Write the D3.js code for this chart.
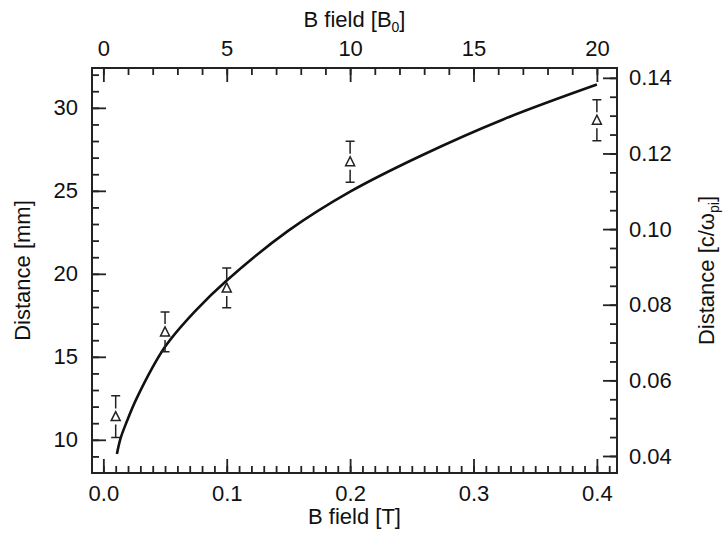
<!DOCTYPE html>
<html>
<head>
<meta charset="utf-8">
<script src="https://cdn.jsdelivr.net/npm/d3@7"></script>
<style>
  body { margin: 0; background: #fff; }
  svg { font-family: "Liberation Sans", Arial, sans-serif; }
  .axis path { stroke: none; }
  .axis line { stroke: #222; stroke-width: 1.8; }
  .axis text { font-size: 22px; fill: #111; }
  .title { font-size: 22px; fill: #111; }
</style>
</head>
<body>
<div id="chart"></div>
<script>
// measured points (B field in tesla, distance in mm)
const fieldT = [0.01, 0.05, 0.1, 0.2, 0.4];
const distMm = [11.4, 16.5, 19.15, 26.75, 29.25];
const errMm = [1.26, 1.2, 1.2, 1.23, 1.23];

// fitted curve
const fitT = [0.011, 0.014, 0.019, 0.027, 0.05, 0.075, 0.1, 0.15, 0.2, 0.257, 0.324, 0.4];
const fitMm = [9.15, 10.1, 11.1, 12.5, 15.6, 17.8, 19.6, 22.6, 24.95, 27.1, 29.3, 31.4];

const bottomMajor = [0, 0.1, 0.2, 0.3, 0.4];
const bottomMinor = d3.range(0, 42).map(i => i / 100);
const topMajor = [0, 5, 10, 15, 20];
const topMinor = d3.range(0, 21);
const leftMajor = [10, 15, 20, 25, 30];
const leftMinor = d3.range(9, 33);
const rightMajor = [0.04, 0.06, 0.08, 0.10, 0.12, 0.14];
const rightMinor = d3.range(8, 29).map(i => i * 0.005);

const W = 725, H = 537;
const box = {left: 92, right: 617, top: 68, bottom: 473};

const svg = d3.select("#chart").append("svg")
    .attr("width", W)
    .attr("height", H);

const x = d3.scaleLinear().domain([-0.0092, 0.4163]).range([box.left, box.right]);
const xTop = d3.scaleLinear().domain([-0.0092 / 0.02, 0.4163 / 0.02]).range([box.left, box.right]);
const y = d3.scaleLinear().domain([8.0, 32.4]).range([box.bottom, box.top]);
const yRight = d3.scaleLinear().domain([0.0355, 0.1426]).range([box.bottom, box.top]);

function addAxis(axis, tr) {
    return svg.append("g").attr("class", "axis").attr("transform", tr).call(axis);
}

// minor ticks first, then majors with labels
addAxis(d3.axisBottom(x).tickValues(bottomMinor).tickSize(-7).tickFormat(""), `translate(0,${box.bottom})`);
addAxis(d3.axisBottom(x).tickValues(bottomMajor).tickSize(-14).tickPadding(12).tickFormat(d3.format(".1f")), `translate(0,${box.bottom})`);

addAxis(d3.axisTop(xTop).tickValues(topMinor).tickSize(-7).tickFormat(""), `translate(0,${box.top})`);
addAxis(d3.axisTop(xTop).tickValues(topMajor).tickSize(-14).tickPadding(12).tickFormat(d3.format("d")), `translate(0,${box.top})`);

addAxis(d3.axisLeft(y).tickValues(leftMinor).tickSize(-7).tickFormat(""), `translate(${box.left},0)`);
addAxis(d3.axisLeft(y).tickValues(leftMajor).tickSize(-14).tickPadding(14).tickFormat(d3.format("d")), `translate(${box.left},0)`);

addAxis(d3.axisRight(yRight).tickValues(rightMinor).tickSize(-7).tickFormat(""), `translate(${box.right},0)`);
addAxis(d3.axisRight(yRight).tickValues(rightMajor).tickSize(-14).tickPadding(12).tickFormat(d3.format(".2f")), `translate(${box.right},0)`);

// frame
svg.append("rect")
    .attr("x", box.left).attr("y", box.top)
    .attr("width", box.right - box.left).attr("height", box.bottom - box.top)
    .attr("fill", "none").attr("stroke", "#222").attr("stroke-width", 2);

// fit curve
const fit = fitT.map((t, i) => [t, fitMm[i]]);
svg.append("path")
    .datum(fit)
    .attr("fill", "none")
    .attr("stroke", "#111")
    .attr("stroke-width", 2.6)
    .attr("d", d3.line().x(d => x(d[0])).y(d => y(d[1])).curve(d3.curveCatmullRom.alpha(0.5)));

// data points: triangle with detached error bars
const pts = svg.append("g")
    .selectAll("g")
    .data(fieldT.map((t, i) => ({t, d: distMm[i], e: errMm[i]})))
    .join("g")
    .attr("transform", p => `translate(${x(p.t)},${y(p.d)})`)
    .attr("stroke", "#222").attr("stroke-width", 1.5).attr("fill", "none");

pts.append("path").attr("d", "M0,-5 L-4.5,4 L4.5,4 Z");
pts.append("path").attr("d", p => {
    const up = y(p.d + p.e) - y(p.d);
    const dn = y(p.d - p.e) - y(p.d);
    return `M-4.5,${up} H4.5 M0,${up} V-8 M0,8 V${dn} M-4.5,${dn} H4.5`;
});

// titles
svg.append("text").attr("class", "title")
    .attr("x", (box.left + box.right) / 2).attr("y", 524)
    .attr("text-anchor", "middle").text("B field [T]");

const topTitle = svg.append("text").attr("class", "title")
    .attr("x", (box.left + box.right) / 2).attr("y", 27)
    .attr("text-anchor", "middle");
topTitle.append("tspan").text("B field [B");
topTitle.append("tspan").attr("font-size", "14px").attr("dy", 5).text("0");
topTitle.append("tspan").attr("dy", -5).text("]");

svg.append("text").attr("class", "title")
    .attr("transform", `translate(30,${(box.top + box.bottom) / 2}) rotate(-90)`)
    .attr("text-anchor", "middle").text("Distance [mm]");

const rightTitle = svg.append("text").attr("class", "title")
    .attr("transform", `translate(714,${(box.top + box.bottom) / 2}) rotate(-90)`)
    .attr("text-anchor", "middle");
rightTitle.append("tspan").text("Distance [c/ω");
rightTitle.append("tspan").attr("font-size", "14px").attr("dy", 5).text("pi");
rightTitle.append("tspan").attr("dy", -5).text("]");
</script>
</body>
</html>
